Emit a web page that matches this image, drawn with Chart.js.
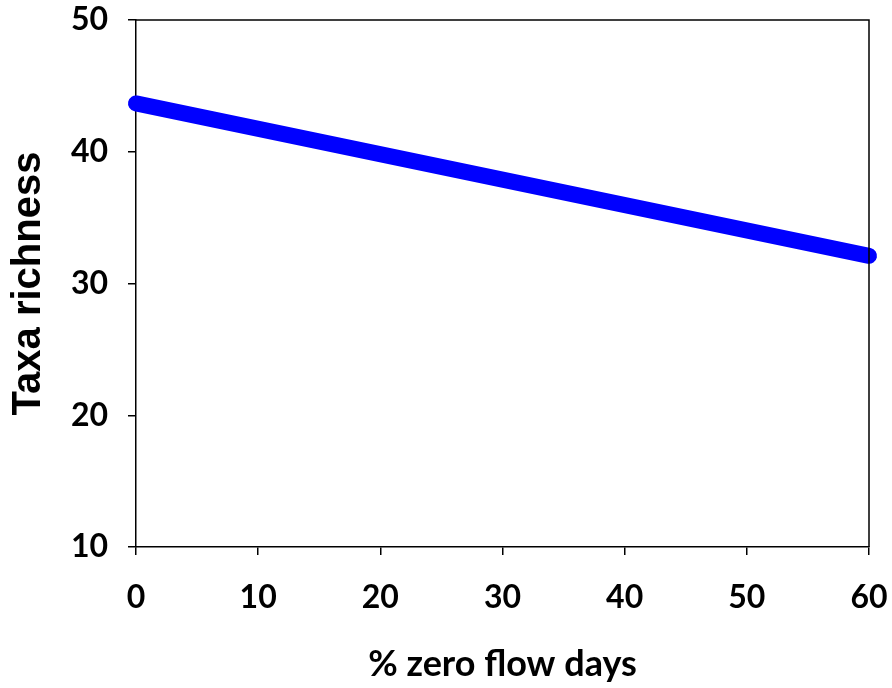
<!DOCTYPE html>
<html><head><meta charset="utf-8">
<script src="https://cdn.jsdelivr.net/npm/chart.js@4/dist/chart.umd.min.js"></script>
<style>html,body{margin:0;padding:0;background:#fff}#wrap{width:892px;height:688px}</style>
</head><body><div id="wrap"><canvas id="c" width="892" height="688"></canvas></div>
<script>
const xValues = [0, 60];
const richness = [43.67, 32.1];
const xTicks = [0, 10, 20, 30, 40, 50, 60];
const yTicks = [10, 20, 30, 40, 50];
const xTitle = '% zero flow days';
const yTitle = 'Taxa richness';

const frame = {
  id: 'frame',
  afterDatasetsDraw(chart) {
    const {ctx, chartArea: a} = chart;
    ctx.save();
    ctx.strokeStyle = '#000'; ctx.lineWidth = 1.5;
    ctx.beginPath();
    ctx.moveTo(a.left, a.top); ctx.lineTo(a.right, a.top); ctx.lineTo(a.right, a.bottom);
    ctx.stroke();
    ctx.restore();
  }
};

function zeroPad(s) { s.paddingTop = 0; s.paddingBottom = 0; s.paddingLeft = 0; s.paddingRight = 0; }

new Chart(document.getElementById('c'), {
  type: 'line',
  data: { datasets: [{
    data: xValues.map((x, i) => ({x, y: richness[i]})),
    borderColor: '#0000ff', borderWidth: 16, borderCapStyle: 'round',
    pointRadius: 0, fill: false, tension: 0
  }]},
  options: {
    responsive: false, animation: false, clip: false,
    layout: { autoPadding: false, padding: { top: 20, right: 23, left: 0, bottom: 0 } },
    plugins: { legend: { display: false }, tooltip: { enabled: false } },
    scales: {
      x: {
        type: 'linear', min: 0, max: 60,
        afterBuildTicks: ax => { ax.ticks = xTicks.map(v => ({value: v})); },
        afterFit: s => { s.height = 141; zeroPad(s); },
        grid: { drawOnChartArea: false, tickLength: 8, color: '#000', lineWidth: 1.5 },
        border: { color: '#000', width: 1.5 },
        ticks: { color: '#000', padding: 23, maxRotation: 0, font: { family: 'Lato', weight: 'bold', size: 32 } },
        title: { display: true, text: xTitle, color: '#000', padding: { top: 0, bottom: 2 }, font: { family: 'Lato', weight: 'bold', size: 36 } }
      },
      y: {
        type: 'linear', min: 10, max: 50,
        afterBuildTicks: ax => { ax.ticks = yTicks.map(v => ({value: v})); },
        afterFit: s => { s.width = 136; zeroPad(s); },
        grid: { drawOnChartArea: false, tickLength: 8, color: '#000', lineWidth: 1.5 },
        border: { color: '#000', width: 1.5 },
        ticks: { color: '#000', padding: 20, font: { family: 'Lato', weight: 'bold', size: 32 } },
        title: { display: true, text: yTitle, color: '#000', padding: { top: 5, bottom: 0 }, font: { family: 'Liberation Sans', weight: 'bold', size: 40 } }
      }
    }
  },
  plugins: [frame]
});
</script></body></html>
